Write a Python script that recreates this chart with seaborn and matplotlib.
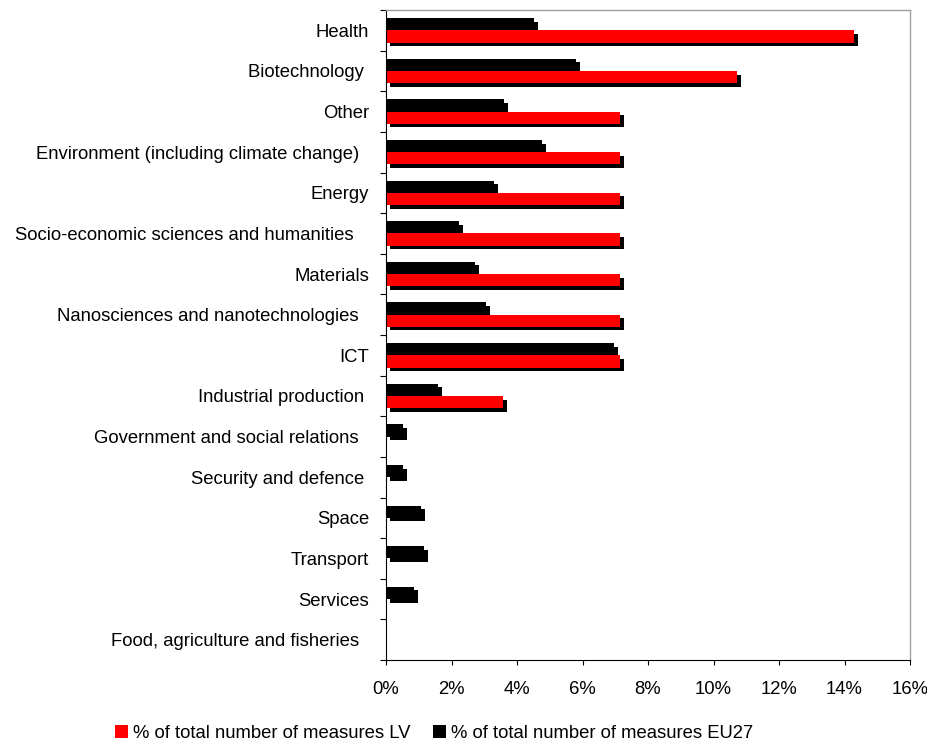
import matplotlib
matplotlib.use("Agg")
import matplotlib.pyplot as plt
import matplotlib.patheffects as pe
from matplotlib.patches import Patch
from matplotlib.ticker import FixedLocator, PercentFormatter
import numpy as np
import pandas as pd
import seaborn as sns

# Research themes, top to bottom
categories = [
    "Health",
    "Biotechnology ",
    "Other",
    "Environment (including climate change)  ",
    "Energy",
    "Socio-economic sciences and humanities   ",
    "Materials",
    "Nanosciences and nanotechnologies  ",
    "ICT",
    "Industrial production ",
    "Government and social relations  ",
    "Security and defence ",
    "Space",
    "Transport",
    "Services",
    "Food, agriculture and fisheries  ",
]

# Share of measures per theme (%)
lv_share = [14.29, 10.71, 7.14, 7.14, 7.14, 7.14, 7.14, 7.14, 7.14, 3.57,
            0.0, 0.0, 0.0, 0.0, 0.0, 0.0]
eu27_share = [4.52, 5.80, 3.60, 4.76, 3.30, 2.23, 2.72, 3.05, 6.96, 1.59,
              0.52, 0.52, 1.07, 1.16, 0.86, 0.0]

series_names = ["% of total number of measures LV",
                "% of total number of measures EU27"]
series_colors = ["#FF0000", "#000000"]
x_ticks = [0, 2, 4, 6, 8, 10, 12, 14, 16]

n = len(categories)
df = pd.DataFrame({
    "category": categories * 2,
    "share": lv_share + eu27_share,
    "series": [series_names[0]] * n + [series_names[1]] * n,
})

sns.set_theme(style="white")
plt.rcParams["font.family"] = ["Liberation Sans", "DejaVu Sans"]
plt.rcParams["text.color"] = "black"
FS = 13.3

fig, ax = plt.subplots(figsize=(9.27, 7.43), dpi=100)
fig.subplots_adjust(left=386 / 927, right=910 / 927,
                    top=1 - 10 / 743, bottom=1 - 660 / 743)

sns.barplot(
    data=df, y="category", x="share", hue="series", order=categories,
    hue_order=[series_names[1], series_names[0]],
    palette=dict(zip(series_names, series_colors)),
    orient="h", width=0.6, saturation=1, linewidth=0, legend=False, ax=ax,
)

# Drop shadow behind every bar
shadow = [pe.SimplePatchShadow(offset=(2.9, -2.6), shadow_rgbFace="black",
                               alpha=1.0), pe.Normal()]
for container in ax.containers:
    for bar in container:
        bar.set_path_effects(shadow)

ax.set_xlim(0, 16)
ax.set_ylim(n - 0.5, -0.5)
ax.set_xticks(x_ticks)
ax.xaxis.set_major_formatter(PercentFormatter(decimals=0))
ax.yaxis.set_minor_locator(FixedLocator(np.arange(-0.5, n, 1.0)))
ax.set_xlabel("")
ax.set_ylabel("")

ax.tick_params(axis="y", which="major", left=True, length=0, pad=12.2,
               labelsize=FS, labelcolor="black")
ax.tick_params(axis="y", which="minor", left=True, length=4.3, width=0.8,
               direction="out", color="black")
ax.tick_params(axis="x", which="major", bottom=True, length=3.6, width=0.8,
               direction="out", color="black", pad=11.7, labelsize=FS,
               labelcolor="black")

for side in ("left", "bottom"):
    ax.spines[side].set_color("black")
    ax.spines[side].set_linewidth(0.8)
for side in ("top", "right"):
    ax.spines[side].set_color("#A0A0A0")
    ax.spines[side].set_linewidth(1.0)

handles = [Patch(facecolor=c, edgecolor="none") for c in series_colors]
fig.legend(handles, series_names, loc="center",
           bbox_to_anchor=(434 / 927, 1 - 733 / 743), ncol=2, frameon=False,
           handlelength=0.7, handleheight=0.7, handletextpad=0.3,
           columnspacing=1.2, fontsize=FS, labelcolor="black")

fig.savefig("out.png", dpi=100, facecolor="white")
